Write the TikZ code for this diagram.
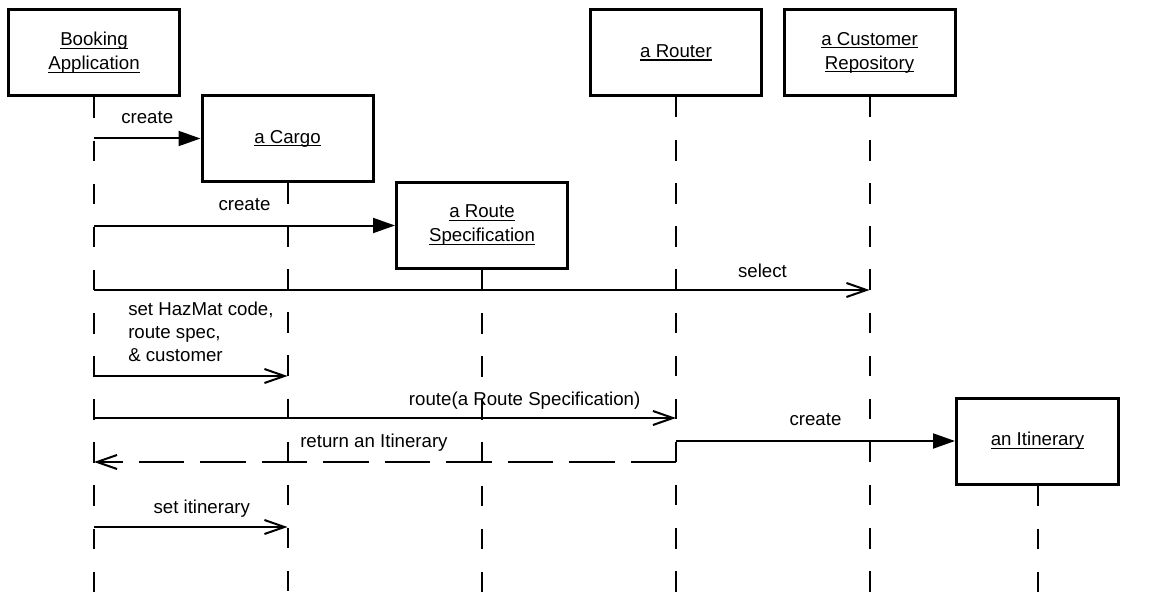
\documentclass[tikz,border=0pt]{standalone}
\usepackage{fontspec}
\setmainfont{Liberation Sans}
\usetikzlibrary{arrows.meta}
% underlined object names, rule just below the baseline
\newcommand{\uln}[1]{\setbox0=\hbox{#1}\rlap{\rule[-2.4pt]{\wd0}{0.8pt}}\box0}
\begin{document}
\begin{tikzpicture}[x=0.75pt, y=-0.75pt,
  every node/.style={font=\fontsize{14}{18}\selectfont},
  obj/.style={draw, line width=2.25pt, minimum width=128.25pt, minimum height=64.5pt,
              align=center, inner sep=0pt},
  life/.style={line width=1.5pt, dash pattern=on 15.375pt off 16.95pt},
  call/.style={line width=1.5pt, -{Triangle[length=16.5pt, width=11.25pt]}},
  msg/.style={line width=1.5pt, -{Straight Barb[length=15pt, width=10.5pt]}},
  ret/.style={msg, dash pattern=on 34pt off 12.1pt},
  lbl/.style={anchor=base, inner sep=0pt},
]
\fill[white] (0,0) rectangle (1154,592);
\useasboundingbox (0,0) rectangle (1154,592);

% participants
\node[obj] (ba) at (94,53)      {\uln{Booking}\\\uln{Application}};
\node[obj] (cg) at (287.5,138.5) {\uln{a Cargo}};
\node[obj] (rs) at (482,225.5)  {\uln{a Route}\\\uln{Specification}};
\node[obj] (ro) at (676,52.5)   {\uln{a Router}};
\node[obj] (cr) at (869.5,52.5) {\uln{a Customer}\\\uln{Repository}};
\node[obj, minimum width=121.5pt] (it) at (1037.5,441) {\uln{an Itinerary}};

% message rows
\coordinate (bot)   at (0,592);
\coordinate (ySel)  at (0,290);
\coordinate (yHaz)  at (0,376);
\coordinate (yRte)  at (0,418);
\coordinate (yRet)  at (0,462);
\coordinate (yItn)  at (0,527);

% lifelines
\foreach \n in {ba,cg,rs,ro,cr,it}
  \draw[life] (\n.south) -- (\n.south |- bot);

% messages
\draw[call] (ba.south |- cg.west) -- node[lbl, pos=.5, yshift=11.6pt] {create} (cg.west);
\draw[call] (ba.south |- rs.west) -- node[lbl, pos=.5, yshift=11.6pt] {create} (rs.west);
\draw[msg] (ba.south |- ySel) -- node[lbl, pos=.862, yshift=9.75pt] {select} (cr.south |- ySel);
\draw[msg] (ba.south |- yHaz) -- (cg.south |- yHaz);
% three-line label; its base anchor sits on the last line
\node[anchor=base west, align=left, inner sep=0pt, font=\fontsize{14}{17}\selectfont]
  (hz) at (128,361) {set HazMat code,\\route spec,\\\& customer};
\draw[msg] (ba.south |- yRte) -- node[lbl, pos=.74, yshift=9.75pt] {route(a Route Specification)} (ro.south |- yRte);
\draw[call] (ro.south |- it.west) -- node[lbl, pos=.5, yshift=12pt] {create} (it.west);
\draw[ret] (ro.south |- yRet) -- node[lbl, pos=.519, yshift=11.25pt] {return an Itinerary} (ba.south |- yRet);
\draw[msg] (ba.south |- yItn) -- node[lbl, pos=.557, yshift=10.5pt] {set itinerary} (cg.south |- yItn);
\end{tikzpicture}
\end{document}
